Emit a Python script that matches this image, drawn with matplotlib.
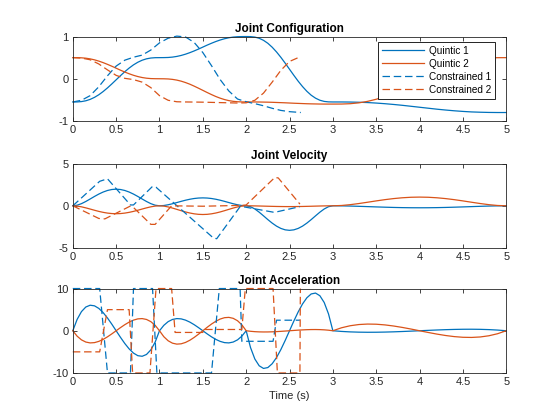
import matplotlib
matplotlib.use("Agg")
import matplotlib.pyplot as plt

plt.rcParams.update({"font.family": ["Liberation Sans", "DejaVu Sans"], "font.size": 8,
                     "axes.unicode_minus": False,
                     "axes.linewidth": 0.6, "xtick.major.width": 0.6, "ytick.major.width": 0.6})

BLUE = "#0072BD"
ORANGE = "#D95319"
AXC = "#262626"

# ---- quintic trajectories (sampled) ----
t_q = [0.0, 0.05, 0.1, 0.15, 0.2, 0.25, 0.3, 0.35, 0.4, 0.45, 0.5, 0.55, 0.6, 0.65, 0.7, 0.75, 0.8, 0.85, 0.9, 0.95, 1.0,
       1.05, 1.1, 1.15, 1.2, 1.25, 1.3, 1.35, 1.4, 1.45, 1.5, 1.55, 1.6, 1.65, 1.7, 1.75, 1.8, 1.85, 1.9, 1.95, 2.0,
       2.05, 2.1, 2.15, 2.2, 2.25, 2.3, 2.35, 2.4, 2.45, 2.5, 2.55, 2.6, 2.65, 2.7, 2.75, 2.8, 2.85, 2.9, 2.95, 3.0,
       3.1, 3.2, 3.3, 3.4, 3.5, 3.6, 3.7, 3.8, 3.9, 4.0, 4.1, 4.2, 4.3, 4.4, 4.5, 4.6, 4.7, 4.8, 4.9, 5.0]

pos_q1 = [-0.55, -0.549, -0.541, -0.522, -0.489, -0.441, -0.379, -0.303, -0.217, -0.123, -0.025,
          0.073, 0.167, 0.253, 0.329, 0.391, 0.439, 0.472, 0.491, 0.499, 0.5,
          0.501, 0.504, 0.513, 0.529, 0.552, 0.582, 0.618, 0.659, 0.703, 0.75,
          0.797, 0.841, 0.882, 0.918, 0.948, 0.971, 0.987, 0.996, 0.999, 1.0,
          0.998, 0.987, 0.959, 0.910, 0.840, 0.747, 0.635, 0.508, 0.369, 0.225,
          0.081, -0.058, -0.185, -0.297, -0.390, -0.460, -0.509, -0.537, -0.548, -0.55,
          -0.550, -0.552, -0.557, -0.564, -0.576, -0.591, -0.609, -0.629, -0.652, -0.675,
          -0.698, -0.721, -0.741, -0.759, -0.774, -0.786, -0.793, -0.798, -0.800, -0.8]
pos_q2 = [0.5, 0.499, 0.496, 0.487, 0.471, 0.448, 0.418, 0.382, 0.341, 0.297, 0.25,
          0.203, 0.159, 0.118, 0.082, 0.052, 0.029, 0.013, 0.004, 0.001, 0.0,
          -0.001, -0.005, -0.015, -0.032, -0.057, -0.090, -0.129, -0.175, -0.224, -0.275,
          -0.326, -0.375, -0.421, -0.460, -0.493, -0.518, -0.535, -0.545, -0.549, -0.55,
          -0.550, -0.550, -0.551, -0.553, -0.555, -0.558, -0.562, -0.566, -0.570, -0.575,
          -0.580, -0.584, -0.588, -0.592, -0.595, -0.597, -0.599, -0.600, -0.600, -0.6,
          -0.599, -0.591, -0.571, -0.536, -0.486, -0.421, -0.341, -0.251, -0.152, -0.05,
          0.052, 0.151, 0.241, 0.321, 0.386, 0.436, 0.471, 0.491, 0.499, 0.5]
vel_q1 = [0.0, 0.071, 0.255, 0.512, 0.806, 1.107, 1.389, 1.630, 1.814, 1.930, 1.969,
          1.930, 1.814, 1.630, 1.389, 1.107, 0.806, 0.512, 0.255, 0.071, 0.0,
          0.034, 0.122, 0.244, 0.384, 0.527, 0.662, 0.776, 0.864, 0.919, 0.938,
          0.919, 0.864, 0.776, 0.662, 0.527, 0.384, 0.244, 0.122, 0.034, 0.0,
          -0.105, -0.377, -0.756, -1.190, -1.635, -2.051, -2.407, -2.678, -2.848, -2.906,
          -2.848, -2.678, -2.407, -2.051, -1.635, -1.190, -0.756, -0.377, -0.105, 0.0,
          -0.008, -0.030, -0.061, -0.096, -0.132, -0.165, -0.194, -0.216, -0.230, -0.234,
          -0.230, -0.216, -0.194, -0.165, -0.132, -0.096, -0.061, -0.030, -0.008, 0.0]
vel_q2 = [0.0, -0.034, -0.122, -0.244, -0.384, -0.527, -0.662, -0.776, -0.864, -0.919, -0.938,
          -0.919, -0.864, -0.776, -0.662, -0.527, -0.384, -0.244, -0.122, -0.034, 0.0,
          -0.037, -0.134, -0.268, -0.422, -0.580, -0.728, -0.854, -0.950, -1.011, -1.031,
          -1.011, -0.950, -0.854, -0.728, -0.580, -0.422, -0.268, -0.134, -0.037, 0.0,
          -0.003, -0.012, -0.024, -0.038, -0.053, -0.066, -0.078, -0.086, -0.092, -0.094,
          -0.092, -0.086, -0.078, -0.066, -0.053, -0.038, -0.024, -0.012, -0.003, 0.0,
          0.037, 0.134, 0.268, 0.422, 0.580, 0.728, 0.854, 0.950, 1.011, 1.031,
          1.011, 0.950, 0.854, 0.728, 0.580, 0.422, 0.268, 0.134, 0.037, 0.0]
acc_q1 = [0.0, 2.693, 4.536, 5.623, 6.048, 5.906, 5.292, 4.300, 3.024, 1.559, 0.0,
          -1.559, -3.024, -4.300, -5.292, -5.906, -6.048, -5.623, -4.536, -2.693, 0.0,
          1.283, 2.160, 2.678, 2.880, 2.813, 2.520, 2.048, 1.440, 0.743, 0.0,
          -0.743, -1.440, -2.048, -2.520, -2.813, -2.880, -2.678, -2.160, -1.283, 0.0,
          -3.976, -6.696, -8.300, -8.928, -8.719, -7.812, -6.347, -4.464, -2.302, 0.0,
          2.302, 4.464, 6.347, 7.812, 8.719, 8.928, 8.300, 6.696, 3.976, 0.0,
          -0.160, -0.270, -0.335, -0.360, -0.352, -0.315, -0.256, -0.180, -0.093, 0.0,
          0.093, 0.180, 0.256, 0.315, 0.352, 0.360, 0.335, 0.270, 0.160, 0.0]
acc_q2 = [0.0, -1.283, -2.160, -2.678, -2.880, -2.813, -2.520, -2.048, -1.440, -0.743, 0.0,
          0.743, 1.440, 2.048, 2.520, 2.813, 2.880, 2.678, 2.160, 1.283, 0.0,
          -1.411, -2.376, -2.945, -3.168, -3.094, -2.772, -2.252, -1.584, -0.817, 0.0,
          0.817, 1.584, 2.252, 2.772, 3.094, 3.168, 2.945, 2.376, 1.411, 0.0,
          -0.128, -0.216, -0.268, -0.288, -0.281, -0.252, -0.205, -0.144, -0.074, 0.0,
          0.074, 0.144, 0.205, 0.252, 0.281, 0.288, 0.268, 0.216, 0.128, 0.0,
          0.705, 1.188, 1.473, 1.584, 1.547, 1.386, 1.126, 0.792, 0.408, 0.0,
          -0.408, -0.792, -1.126, -1.386, -1.547, -1.584, -1.473, -1.188, -0.705, 0.0]

# ---- constrained trajectories ----
t_c = [0.0, 0.1, 0.2, 0.3, 0.4, 0.5, 0.6, 0.7, 0.8, 0.9, 1.0, 1.1, 1.2, 1.3, 1.4, 1.5, 1.6,
       1.7, 1.8, 1.9, 2.0, 2.1, 2.2, 2.3, 2.4, 2.5, 2.6, 2.63]
pos_c1 = [-0.55, -0.51, -0.40, -0.19, 0.07, 0.30, 0.44, 0.51, 0.56, 0.68, 0.85, 0.96, 1.01, 0.99,
          0.86, 0.62, 0.31, -0.02, -0.29, -0.48, -0.545, -0.59, -0.64, -0.70, -0.75, -0.78, -0.795, -0.80]
pos_c2 = [0.50, 0.49, 0.45, 0.35, 0.21, 0.08, 0.01, -0.02, -0.08, -0.21, -0.40, -0.51, -0.545, -0.55,
          -0.552, -0.555, -0.56, -0.565, -0.57, -0.575, -0.57, -0.51, -0.34, -0.08, 0.20, 0.41, 0.50, 0.51]

t_vc1 = [0.0, 0.31, 0.40, 0.665, 0.70, 0.92, 0.96, 1.62, 1.66, 1.93, 1.96, 2.31, 2.36, 2.62]
vel_c1 = [0.0, 2.9, 3.2, 0.1, 0.1, 2.3, 2.2, -3.8, -3.9, -0.1, -0.1, -0.75, -0.7, -0.1]
t_vc2 = [0.0, 0.30, 0.37, 0.66, 0.69, 0.90, 0.95, 1.14, 1.50, 1.95, 2.0, 2.33, 2.37, 2.62]
vel_c2 = [0.0, -1.5, -1.55, -0.05, -0.1, -2.2, -2.2, 0.0, -0.05, 0.05, 0.1, 3.35, 3.3, 0.2]

t_ac1 = [0.0, 0.31, 0.40, 0.665, 0.70, 0.92, 0.97, 1.60, 1.69, 1.93, 1.95, 2.31, 2.35, 2.62]
acc_c1 = [10, 10, -10, -10, 10, 10, -10, -10, 10, 10, -2.5, -2.5, 2.5, 2.5]
t_ac2 = [0.0, 0.31, 0.40, 0.65, 0.69, 0.89, 0.96, 1.14, 1.18, 1.50, 1.51, 1.95, 1.99, 2.31, 2.36, 2.62, 2.625]
acc_c2 = [-5, -5, 5, 5, -10, -10, 10, 10, -0.4, -0.4, 0.3, 0.3, 10, 10, -10, -10, 10]

panels = [
    ("Joint Configuration", (-1, 1), [-1, 0, 1],
     [(t_q, pos_q1), (t_q, pos_q2), (t_c, pos_c1), (t_c, pos_c2)]),
    ("Joint Velocity", (-5, 5), [-5, 0, 5],
     [(t_q, vel_q1), (t_q, vel_q2), (t_vc1, vel_c1), (t_vc2, vel_c2)]),
    ("Joint Acceleration", (-10, 10), [-10, 0, 10],
     [(t_q, acc_q1), (t_q, acc_q2), (t_ac1, acc_c1), (t_ac2, acc_c2)]),
]
names = ["Quintic 1", "Quintic 2", "Constrained 1", "Constrained 2"]
styles = [(BLUE, "-"), (ORANGE, "-"), (BLUE, "--"), (ORANGE, "--")]

fig = plt.figure(figsize=(5.6, 4.2), dpi=100)
bottoms = [0.712, 0.4095, 0.112]
xt = [0, 0.5, 1, 1.5, 2, 2.5, 3, 3.5, 4, 4.5, 5]

for k, (title, ylim, yt, series) in enumerate(panels):
    ax = fig.add_axes([0.130, bottoms[k], 0.774, 0.201])
    lines = []
    for (tx, ty), (c, ls) in zip(series, styles):
        ln, = ax.plot(tx, ty, color=c, lw=0.9, ls=ls, clip_on=False)
        if ls == "--":
            ln.set_dashes((6, 3))
        lines.append(ln)
    ax.set_xlim(0, 5)
    ax.set_ylim(*ylim)
    ax.set_xticks(xt)
    ax.set_xticklabels(["%g" % v for v in xt])
    ax.set_yticks(yt)
    ax.tick_params(direction="in", length=3, top=True, right=True, colors=AXC,
                   labelsize=8, pad=3)
    for s in ax.spines.values():
        s.set_color(AXC)
    ax.set_title(title, fontsize=8.5, fontweight="bold", color="black", pad=3)
    if k == 0:
        ax.legend(lines, names, loc="upper right", bbox_to_anchor=(0.975, 0.94),
                  borderaxespad=0, fancybox=False, edgecolor="black", framealpha=1,
                  fontsize=7.2, handlelength=4.2, labelspacing=0.3, borderpad=0.4,
                  handletextpad=0.5).get_frame().set_linewidth(0.6)
    if k == 2:
        ax.set_xlabel("Time (s)", fontsize=8, color=AXC, labelpad=3)

fig.savefig("out.png", dpi=100)
